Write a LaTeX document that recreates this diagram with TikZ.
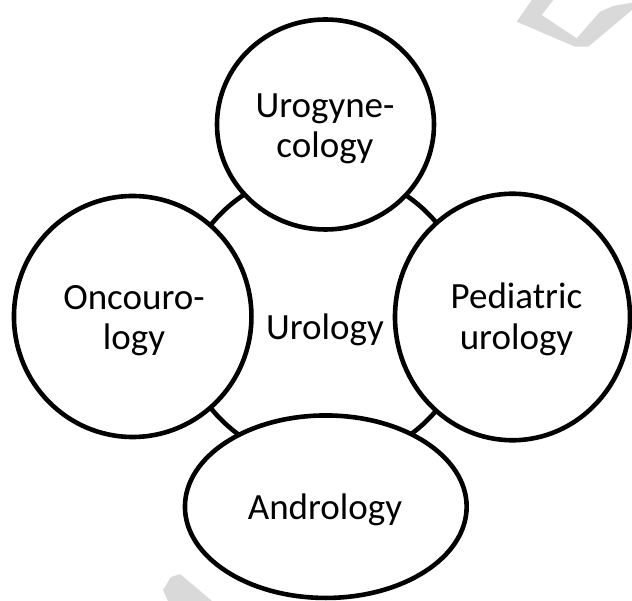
\documentclass[tikz,border=0pt]{standalone}
\usepackage{fontspec}
\setmainfont{Carlito}
\usetikzlibrary{shapes.geometric}
\tikzset{
  bub/.style={ellipse, draw=black, line width=4.6pt, fill=white, inner sep=0pt},
  ringline/.style={draw=black, line width=4.6pt},
  lbl/.style={font=\fontsize{37}{40.5}\selectfont, align=center, inner sep=0pt},
  wm/.style={fill=black!15, draw=none}
}
\begin{document}
\begin{tikzpicture}[x=1pt,y=-1pt]
\useasboundingbox (0,0) rectangle (632,601);
% faint watermark fragments
\fill[wm] (516.7,21.7) -- (531.7,0) -- (553.3,0) -- (541.7,15) -- (576.7,38.3) -- (600,11.7) -- (613,6) -- (632,2.7) -- (632,10) -- (588.3,46.7) -- (575,46.7) -- cycle;
\fill[wm] (163,590) -- (171,577) -- (180,574) -- (212,601) -- (168,601) -- cycle;
% ring behind the bubbles
\coordinate (ringc) at (324.5,316.5);
\draw[ringline] (ringc) circle[radius=146];
% bubbles
\node[bub, minimum width=217pt, minimum height=210pt] (urogyn) at (325.5,124.5) {};
\node[bub, minimum width=237.5pt, minimum height=241pt] (onco) at (132.7,316.5) {};
\node[bub, minimum width=235pt, minimum height=246.5pt] (pedi) at (512.5,317) {};
\node[bub, minimum width=281.7pt, minimum height=182.5pt] (andro) at (325.8,506.7) {};
% labels
\node[lbl] (turogyn) at (325,129) {Urogyne-\\cology};
\node[lbl] (tonco) at (134,320.5) {Oncouro-\\logy};
\node[lbl] (tpedi) at (516.5,319.5) {Pediatric\\urology};
\node[lbl] (tandro) at (325,509.8) {Andrology};
\node[lbl] (turo) at (325,329.8) {Urology};
\end{tikzpicture}
\end{document}
